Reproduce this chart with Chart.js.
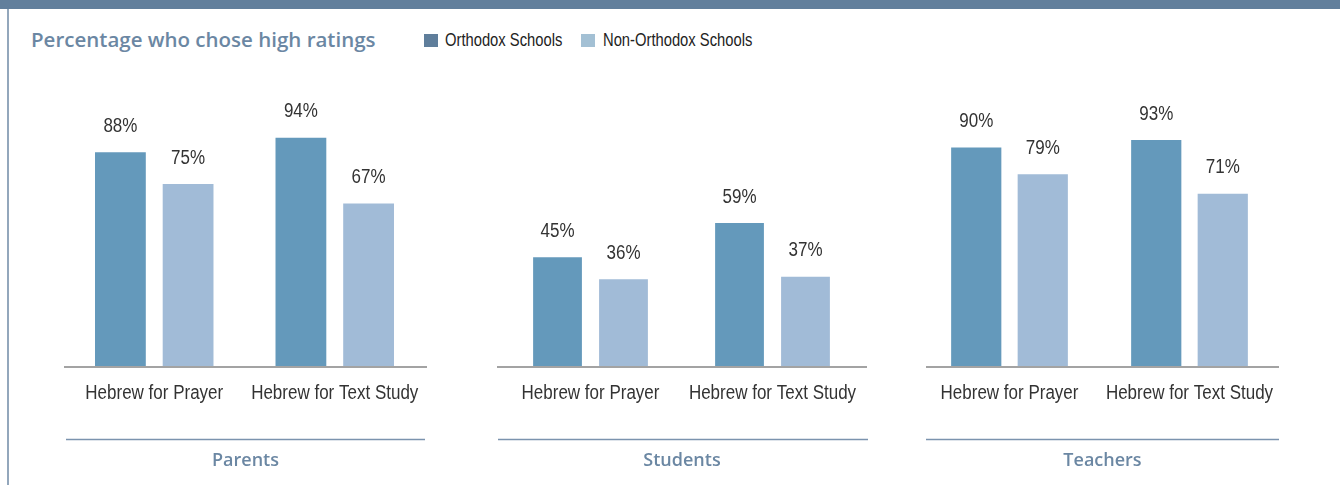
<!DOCTYPE html>
<html>
<head>
<meta charset="utf-8">
<script src="https://cdn.jsdelivr.net/npm/chart.js@4.4.1/dist/chart.umd.min.js"></script>
<style>
  html, body { margin: 0; padding: 0; background: #ffffff; }
  #page { position: relative; width: 1340px; height: 485px; overflow: hidden; background: #ffffff; }
  #topbar { position: absolute; left: 0; top: 0; width: 1340px; height: 9px; background: #627f9c; }
  #rule { position: absolute; left: 7px; top: 9px; width: 2px; height: 476px; background: #93a7bc; }
  #title { position: absolute; left: 31px; top: 25px; font: 600 20.5px "Open Sans", sans-serif; color: #6b87a3; white-space: nowrap; }
  .leg { position: absolute; top: 30px; height: 20px; font: 18px "Liberation Sans", sans-serif; color: #222; white-space: nowrap; line-height: 20px; transform: scaleX(0.82); transform-origin: 0 50%; }
  .sw { position: absolute; top: 34px; width: 14px; height: 13px; }
  canvas { position: absolute; top: 60px; }
</style>
</head>
<body>
<div id="page">
  <div id="topbar"></div>
  <div id="rule"></div>
  <div id="title">Percentage who chose high ratings</div>
  <div id="legend"></div>
</div>
<script>
// Categories, series and panel names
const categories = ["Hebrew for Prayer", "Hebrew for Text Study"];
const seriesNames = ["Orthodox Schools", "Non-Orthodox Schools"];
const panelNames = ["Parents", "Students", "Teachers"];

// Percent choosing high ratings, per panel: [Prayer, Text Study]
const parentsOrthodox = [88, 94];
const parentsNonOrthodox = [75, 67];
const studentsOrthodox = [45, 59];
const studentsNonOrthodox = [36, 37];
const teachersOrthodox = [90, 93];
const teachersNonOrthodox = [79, 71];

const panelData = [
  [parentsOrthodox, parentsNonOrthodox],
  [studentsOrthodox, studentsNonOrthodox],
  [teachersOrthodox, teachersNonOrthodox]
];

// Styling
const barColors = ["#6499bb", "#a1bbd7"];
const swatchColors = ["#5f7e9b", "#a3c0d4"];
const LABEL_FONT = '20px "Liberation Sans", sans-serif';
const NARROW_SCALE = 0.85;

// Panel frames (page px): canvas box, plot padding, baseline and rule extents
const panelLayout = [
  { left: 60,  width: 372, padL: 4,   padR: 7,    base: [4, 367],  rule: [6, 365],  cat: 0.75,  bar: 0.78 },
  { left: 490, width: 385, padL: 9.5, padR: 11.5, base: [7, 377],  rule: [8, 378],  cat: 0.725, bar: 0.77 },
  { left: 915, width: 372, padL: 4.5, padR: 7.5,  base: [11, 364], rule: [11, 364], cat: 0.739, bar: 0.785 }
];

// Legend
const legend = document.getElementById('legend');
const legendX = [[424, 445], [581, 603]];
seriesNames.forEach((name, i) => {
  const sw = document.createElement('div');
  sw.className = 'sw';
  sw.style.left = legendX[i][0] + 'px';
  sw.style.background = swatchColors[i];
  legend.appendChild(sw);
  const t = document.createElement('div');
  t.className = 'leg';
  t.style.left = legendX[i][1] + 'px';
  t.textContent = name;
  legend.appendChild(t);
});

// Condensed text: squeeze horizontally around the anchor point
function narrowText(ctx, text, x, y) {
  ctx.save();
  ctx.translate(x, y);
  ctx.scale(NARROW_SCALE, 1);
  ctx.fillText(text, 0, 0);
  ctx.restore();
}

// Percent labels above each bar
const valueLabels = {
  id: 'valueLabels',
  afterDatasetsDraw(chart) {
    const ctx = chart.ctx;
    ctx.save();
    ctx.font = LABEL_FONT;
    ctx.fillStyle = '#333333';
    ctx.textAlign = 'center';
    ctx.textBaseline = 'middle';
    chart.data.datasets.forEach((ds, i) => {
      chart.getDatasetMeta(i).data.forEach((bar, j) => {
        narrowText(ctx, ds.data[j] + '%', bar.x, bar.y - 25);
      });
    });
    ctx.restore();
  }
};

// Baseline, category names, rule and panel name
const panelFrame = {
  id: 'panelFrame',
  afterDraw(chart, args, opts) {
    const x = chart.scales.x;
    const ctx = chart.ctx;
    const base = chart.chartArea.bottom;
    ctx.save();
    ctx.strokeStyle = '#a3a3a3';
    ctx.lineWidth = 2;
    ctx.beginPath();
    ctx.moveTo(opts.base[0], base + 1);
    ctx.lineTo(opts.base[1], base + 1);
    ctx.stroke();

    ctx.font = LABEL_FONT;
    ctx.fillStyle = '#333333';
    ctx.textAlign = 'center';
    ctx.textBaseline = 'middle';
    chart.data.labels.forEach((lab, i) => {
      narrowText(ctx, lab, x.getPixelForTick(i), base + 27);
    });

    ctx.strokeStyle = '#7b93ae';
    ctx.lineWidth = 1.6;
    ctx.beginPath();
    ctx.moveTo(opts.rule[0], base + 73.5);
    ctx.lineTo(opts.rule[1], base + 73.5);
    ctx.stroke();

    ctx.font = '600 18px "Open Sans", sans-serif';
    ctx.fillStyle = '#6b87a3';
    ctx.fillText(opts.name, (opts.base[0] + opts.base[1]) / 2, base + 95);
    ctx.restore();
  }
};

const page = document.getElementById('page');
panelNames.forEach((name, p) => {
  const L = panelLayout[p];
  const cv = document.createElement('canvas');
  cv.width = L.width;
  cv.height = 425;
  cv.style.left = L.left + 'px';
  page.appendChild(cv);
  new Chart(cv, {
    type: 'bar',
    data: {
      labels: categories,
      datasets: seriesNames.map((s, i) => ({
        label: s,
        data: panelData[p][i],
        backgroundColor: barColors[i],
        borderColor: 'rgba(255,255,255,0.45)',
        borderWidth: 1,
        borderSkipped: 'bottom',
        categoryPercentage: L.cat,
        barPercentage: L.bar
      }))
    },
    options: {
      responsive: false,
      animation: false,
      devicePixelRatio: 1,
      layout: { padding: { top: 62, left: L.padL, right: L.padR, bottom: 119 } },
      plugins: {
        legend: { display: false },
        tooltip: { enabled: false },
        panelFrame: { name: name, base: L.base, rule: L.rule }
      },
      scales: {
        y: { display: false, min: 0, max: 100 },
        x: { display: false }
      }
    },
    plugins: [valueLabels, panelFrame]
  });
});
</script>
</body>
</html>
